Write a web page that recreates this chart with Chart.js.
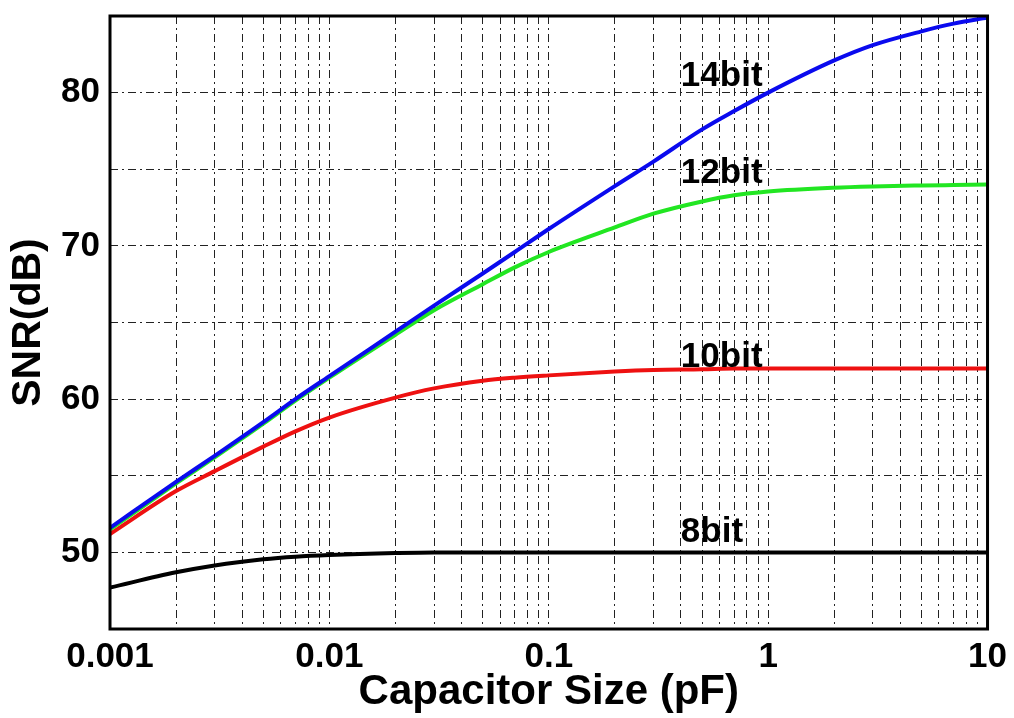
<!DOCTYPE html>
<html>
<head>
<meta charset="utf-8">
<script src="https://cdn.jsdelivr.net/npm/chart.js@4/dist/chart.umd.min.js"></script>
<style>
  html, body { margin: 0; padding: 0; background: #fff; }
  #wrap { width: 1014px; height: 718px; }
</style>
</head>
<body>
<div id="wrap"><canvas id="snrChart"></canvas></div>
<script>
let capSizes = [0.001, 0.002, 0.003, 0.005, 0.007, 0.01, 0.02, 0.03, 0.05, 0.07, 0.1, 0.2, 0.3, 0.5, 0.7, 1, 2, 3, 5, 7, 10]

// SNR (dB) for each resolution
let snr14 = [51.6, 54.6, 56.3, 58.5, 60.0, 61.5, 64.4, 66.1, 68.2, 69.6, 71.1, 73.9, 75.5, 77.6, 78.8, 80.0, 82.1, 83.1, 84.0, 84.5, 84.9]
let snr12 = [51.5, 54.5, 56.2, 58.4, 59.9, 61.4, 64.2, 65.8, 67.5, 68.6, 69.6, 71.2, 72.1, 72.9, 73.3, 73.55, 73.8, 73.88, 73.94, 73.97, 74.0]
let snr10 = [51.2, 54.0, 55.3, 56.9, 57.9, 58.8, 60.1, 60.7, 61.2, 61.4, 61.55, 61.8, 61.9, 61.95, 62.0, 62.0, 62.0, 62.0, 62.0, 62.0, 62.0]
let snr8 = [47.7, 48.7, 49.15, 49.55, 49.72, 49.83, 49.96, 50.0, 50.0, 50.0, 50.0, 50.0, 50.0, 50.0, 50.0, 50.0, 50.0, 50.0, 50.0, 50.0, 50.0]

let seriesNames = ["14bit", "12bit", "10bit", "8bit"]

// Where the curve names sit (data units)
let nameAtX = 0.4
let nameAtY = [80.4, 74.1, 62.1, 50.7]

// Axis ticks
let xTickValues = [0.001, 0.01, 0.1, 1, 10]
let xTickLabels = ["0.001", "0.01", "0.1", "1", "10"]
let yTickLabels = [50, 60, 70, 80]

const FONT = "'Liberation Sans', Arial, Helvetica, sans-serif"

// Grid lines on every 1..9 of each decade
let gridValues = []
xTickValues.forEach((v, i) => {
  if (i == xTickValues.length - 1) {
    gridValues.push(v)
    return
  }
  for (let m = 1; m <= 9; m++) {
    gridValues.push(parseFloat((v * m).toPrecision(3)))
  }
})

let toPoints = values => values.map((y, i) => ({ x: capSizes[i], y: y }))

// Draw the heavy box round the plot
let framePlugin = {
  id: "frame",
  afterDraw(chart) {
    let { ctx, chartArea } = chart
    ctx.save()
    ctx.strokeStyle = "#000"
    ctx.lineWidth = 3
    ctx.strokeRect(chartArea.left, chartArea.top, chartArea.right - chartArea.left, chartArea.bottom - chartArea.top)
    ctx.restore()
  }
}

// Write the resolution next to each curve
let namePlugin = {
  id: "names",
  afterDatasetsDraw(chart) {
    let { ctx, scales } = chart
    ctx.save()
    ctx.fillStyle = "#000"
    ctx.font = "bold 35px " + FONT
    ctx.textAlign = "left"
    ctx.textBaseline = "alphabetic"
    seriesNames.forEach((name, i) => {
      ctx.fillText(name, scales.x.getPixelForValue(nameAtX), scales.y.getPixelForValue(nameAtY[i]))
    })
    ctx.restore()
  }
}

let config = {
  type: "line",
  data: {
    datasets: [
      { label: seriesNames[0], data: toPoints(snr14), borderColor: "#0a0aee" },
      { label: seriesNames[1], data: toPoints(snr12), borderColor: "#22e622" },
      { label: seriesNames[2], data: toPoints(snr10), borderColor: "#ee1111" },
      { label: seriesNames[3], data: toPoints(snr8), borderColor: "#000000" }
    ]
  },
  options: {
    responsive: true,
    maintainAspectRatio: false,
    animation: false,
    layout: { padding: { top: 16, right: 26, left: 0, bottom: 0 } },
    elements: {
      line: { borderWidth: 4, cubicInterpolationMode: "monotone", fill: false },
      point: { radius: 0 }
    },
    plugins: {
      legend: { display: false },
      tooltip: { enabled: false }
    },
    scales: {
      x: {
        type: "logarithmic",
        min: 0.001,
        max: 10,
        afterBuildTicks: scale => {
          scale.ticks = gridValues.map(v => ({ value: v }))
        },
        afterFit: scale => { scale.height = 89 },
        grid: { color: "#222", lineWidth: 1, drawTicks: false },
        border: { display: false, dash: [8, 4, 2, 4] },
        ticks: {
          autoSkip: false,
          maxRotation: 0,
          padding: 7,
          color: "#000",
          font: { family: FONT, size: 35, weight: "bold" },
          callback: value => {
            let i = xTickValues.findIndex(v => Math.abs(v - value) < v * 1e-6)
            return i >= 0 ? xTickLabels[i] : ""
          }
        },
        title: {
          display: true,
          text: "Capacitor Size (pF)",
          color: "#000",
          font: { family: FONT, size: 42, weight: "bold" },
          padding: { top: 0, bottom: 0 }
        }
      },
      y: {
        min: 45,
        max: 85,
        afterFit: scale => {
          scale.width = 110
          scale.paddingTop = 0
          scale.paddingBottom = 0
        },
        grid: { color: "#222", lineWidth: 1, drawTicks: false },
        border: { display: false, dash: [8, 4, 2, 4] },
        ticks: {
          stepSize: 5,
          padding: 10,
          color: "#000",
          font: { family: FONT, size: 35, weight: "bold" },
          callback: value => yTickLabels.includes(value) ? value : ""
        },
        title: {
          display: true,
          text: "SNR(dB)",
          color: "#000",
          font: { family: FONT, size: 41, weight: "bold" },
          padding: { top: 4, bottom: 0 }
        }
      }
    }
  },
  plugins: [framePlugin, namePlugin]
}

new Chart("snrChart", config)
</script>
</body>
</html>
